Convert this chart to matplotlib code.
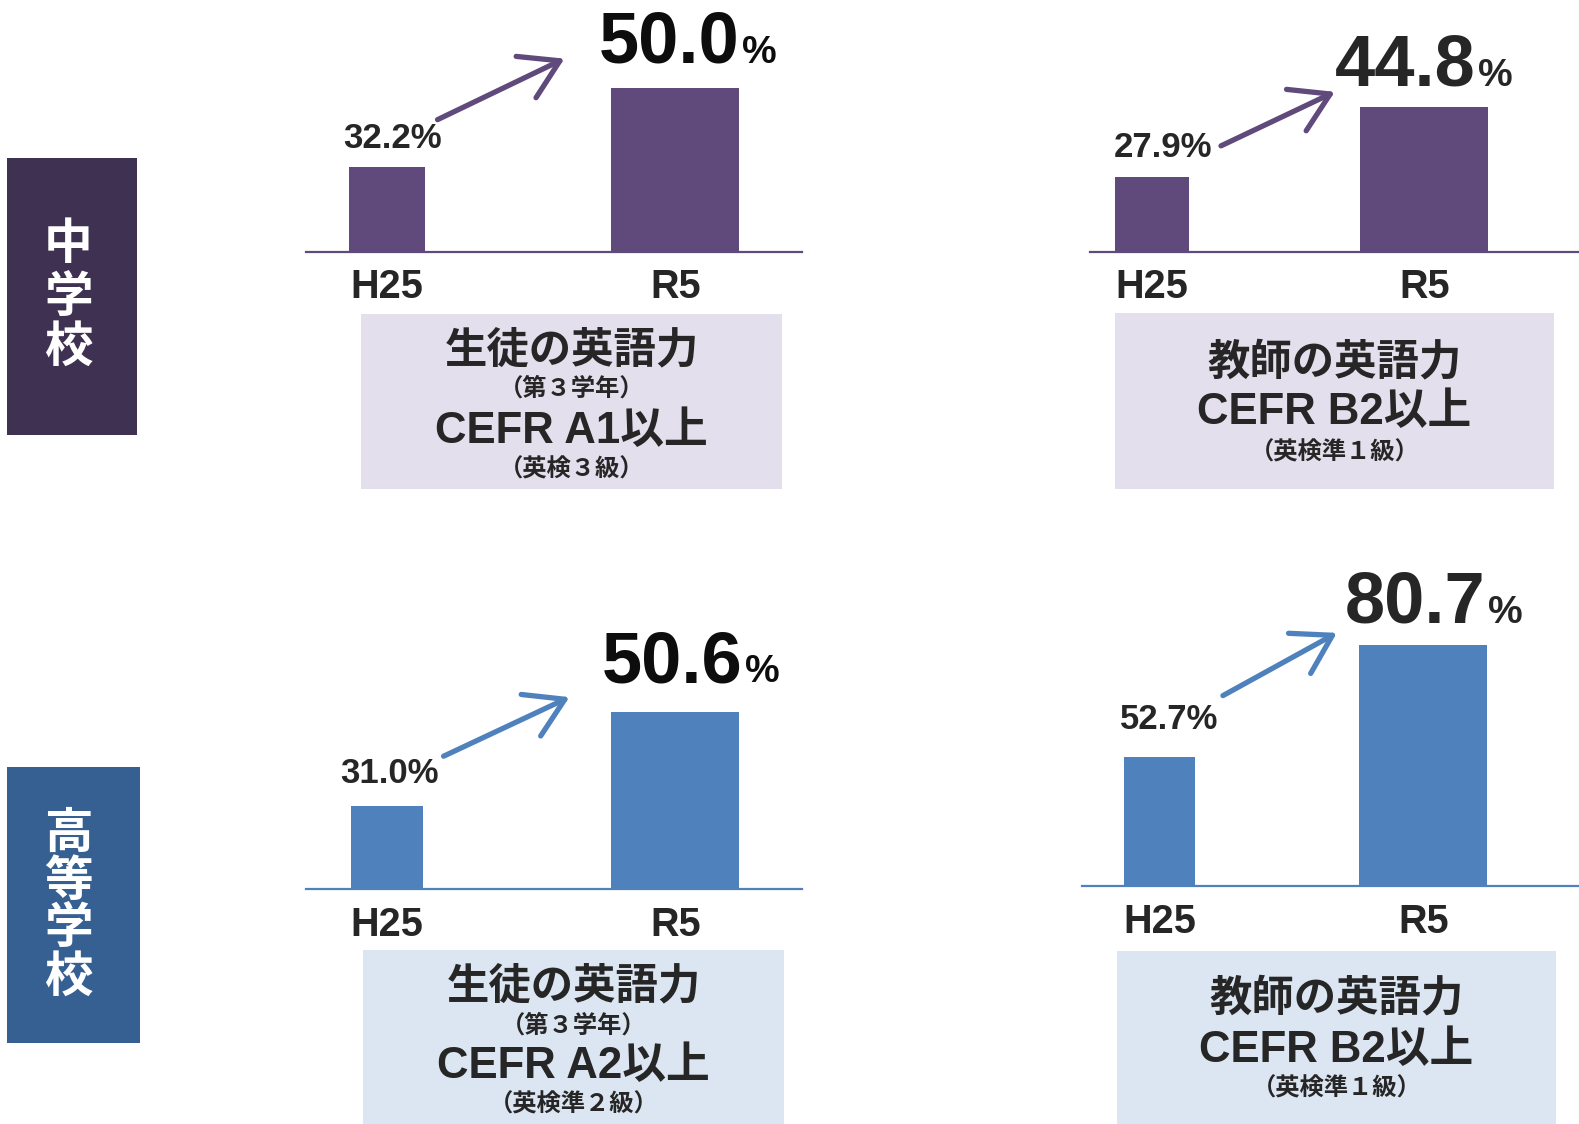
import matplotlib
matplotlib.use('Agg')
import matplotlib.pyplot as plt
from matplotlib.patches import Rectangle, FancyArrowPatch

# values (percent)
years = ['H25', 'R5']
jh_students = [32.2, 50.0]
jh_teachers = [27.9, 44.8]
hs_students = [31.0, 50.6]
hs_teachers = [52.7, 80.7]

jh_label = '中学校'
hs_label = '高等学校'
students_box = ['生徒の英語力', '（第３学年）', 'CEFR A1以上', '（英検３級）']
jh_teacher_box = ['教師の英語力', 'CEFR B2以上', '（英検準１級）']
hs_students_box = ['生徒の英語力', '（第３学年）', 'CEFR A2以上', '（英検準２級）']
hs_teacher_box = ['教師の英語力', 'CEFR B2以上', '（英検準１級）']

W, H = 1568.0, 1116.0
purple = '#604a7b'
purple_dark = '#3f3151'
purple_light = '#e4dfec'
blue = '#4f81bd'
blue_dark = '#376092'
blue_light = '#dce6f2'
txt = '#262626'
LAT = ['Liberation Sans', 'Noto Sans CJK JP']
CJK = ['Noto Sans CJK JP']

fig = plt.figure(figsize=(15.79, 11.24), dpi=100)
bg = fig.add_axes([0, 0, 1, 1])
bg.set_xlim(0, W)
bg.set_ylim(H, 0)
bg.axis('off')


def side_label(x0, y0, x1, y1, color, chars, ys):
    bg.add_patch(Rectangle((x0, y0), x1 - x0, y1 - y0, color=color, lw=0))
    for ch, y in zip(chars, ys):
        bg.text(68, y, ch, color='white', fontsize=35, fontweight='bold',
                family=CJK, ha='center', va='center')


def text_box(x0, y0, x1, y1, color, lines, ys):
    bg.add_patch(Rectangle((x0, y0), x1 - x0, y1 - y0, color=color, lw=0))
    for s, y in zip(lines, ys):
        if s.startswith('（'):
            fs = 17.5
        elif s.startswith('CEFR'):
            fs = 31.5
        else:
            fs = 30.5
        bg.text((x0 + x1) / 2, y, s, color=txt, fontsize=fs, fontweight='bold',
                family=LAT, ha='center', va='center')


def panel(vals, x0, x1, base, top, centers, widths, ymin, color, numcolor,
          lab_off, num_dx, num_dy, arrow):
    ax = fig.add_axes([x0 / W, 1 - base / H, (x1 - x0) / W, (base - top) / H])
    ax.patch.set_visible(False)
    s = centers[1] - centers[0]
    ax.set_xlim(-(centers[0] - x0) / s, 1 + (x1 - centers[1]) / s)
    ax.set_ylim(ymin, vals[1])
    w = [widths[0] / s, widths[1] / s]
    ax.bar([0, 1], vals, width=w, color=color, zorder=2)
    for sp in ['top', 'right', 'left']:
        ax.spines[sp].set_visible(False)
    ax.spines['bottom'].set_color(color)
    ax.spines['bottom'].set_linewidth(1.6)
    ax.set_yticks([])
    ax.set_xticks([0, 1])
    ax.set_xticklabels(years, fontsize=28.5, fontweight='bold', color=txt, family=LAT)
    ax.tick_params(axis='x', length=0, pad=12)
    # small value label above the H25 bar
    ax.annotate('%.1f%%' % vals[0], xy=(0, vals[0]), xytext=lab_off,
                textcoords='offset pixels', ha='center', va='bottom',
                fontsize=25, fontweight='bold', color=txt, family=LAT,
                annotation_clip=False)
    # big value label above the R5 bar
    xr = 1 + w[1] / 2
    ax.annotate('%.1f' % vals[1], xy=(xr, vals[1]), xytext=(num_dx, num_dy),
                textcoords='offset pixels', ha='right', va='baseline',
                fontsize=52, fontweight='bold', color=numcolor, family=LAT,
                annotation_clip=False)
    ax.annotate('%', xy=(xr, vals[1]), xytext=(num_dx + 3, num_dy),
                textcoords='offset pixels', ha='left', va='baseline',
                fontsize=28, fontweight='bold', color=numcolor, family=LAT,
                annotation_clip=False)
    a = FancyArrowPatch(arrow[0], arrow[1], arrowstyle='->,head_length=0.9,head_width=0.55',
                        mutation_scale=30, color=color, lw=3.8,
                        capstyle='round', joinstyle='round')
    bg.add_patch(a)


side_label(7, 157, 136, 432, purple_dark, list(jh_label), [243, 295, 345])
side_label(7, 762, 139, 1036, blue_dark, list(hs_label), [827, 875, 922, 970])

panel(jh_students, 304, 796, 250, 87, (384.5, 670.5), (75, 127), 13.3, purple, '#0d0d0d',
      (5, 12), 0, 25, ((432, 120), (563, 57)))
panel(jh_teachers, 1082, 1568, 250, 106, (1144, 1414.5), (74, 127), 10.0, purple, txt,
      (11, 13), -13, 21, ((1210, 146), (1328, 90)))
panel(hs_students, 304, 796, 883, 707, (384.5, 670.5), (71, 127), 13.5, blue, '#0d0d0d',
      (2, 16), 3, 30, ((438, 752), (568, 691)))
panel(hs_teachers, 1074, 1568, 880, 640, (1151.5, 1413.5), (71, 127), 20.7, blue, txt,
      (10, 21), -2, 22, ((1212, 692), (1330, 627)))

text_box(358, 312, 777, 486, purple_light, students_box, [349, 386, 428, 466])
text_box(1107, 311, 1543, 486, purple_light, jh_teacher_box, [360, 410, 450])
text_box(360, 943, 779, 1116, blue_light, hs_students_box, [980, 1018, 1059, 1097])
text_box(1109, 944, 1545, 1116, blue_light, hs_teacher_box, [992, 1043, 1081])

fig.savefig('out.png', dpi=100)
